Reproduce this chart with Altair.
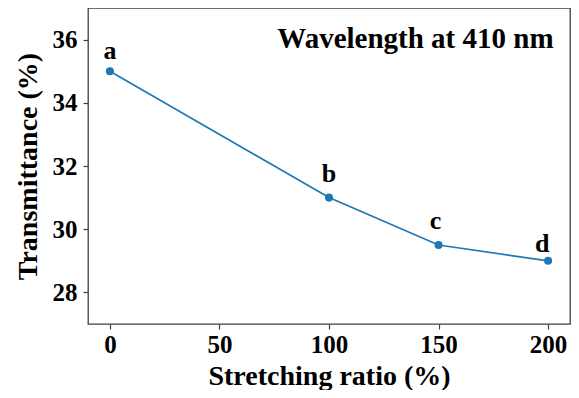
import altair as alt
import pandas as pd

stretch = [0, 100, 150, 200]
transmittance = [35.0, 31.0, 29.5, 29.0]
labels = ["a", "b", "c", "d"]
label_x = [0, 100, 148.6, 197.3]
label_y = [35.4, 31.5, 30.0, 29.27]
y_ticks = [28, 30, 32, 34, 36]
x_ticks = [0, 50, 100, 150, 200]

df = pd.DataFrame({"x": stretch, "y": transmittance})
lab = pd.DataFrame({"x": label_x, "y": label_y, "t": labels})
ttl = pd.DataFrame({"x": [202.5], "y": [35.73], "t": ["Wavelength at 410 nm"]})

FONT = "'Liberation Serif', 'Times New Roman', Times, serif"
xs = alt.Scale(domain=[-10, 210], nice=False, zero=False)
ys = alt.Scale(domain=[27, 37], nice=False, zero=False)

xax = alt.Axis(values=x_ticks, title="Stretching ratio (%)", grid=False, domain=False,
               tickSize=5, tickColor="#404040", tickWidth=1.2, labelFont=FONT, labelFontSize=25,
               labelFontWeight="bold", labelColor="black", labelPadding=3,
               titleFont=FONT, titleFontSize=28, titleFontWeight="bold",
               titleColor="black", titlePadding=5)
yax = alt.Axis(values=y_ticks, title="Transmittance (%)", grid=False, domain=False,
               tickSize=5, tickColor="#404040", tickWidth=1.2, labelFont=FONT, labelFontSize=25,
               labelFontWeight="bold", labelColor="black", labelPadding=6,
               titleFont=FONT, titleFontSize=28, titleFontWeight="bold",
               titleColor="black", titlePadding=10)

line = alt.Chart(df).mark_line(color="#1f77b4", strokeWidth=1.7).encode(
    x=alt.X("x:Q", scale=xs, axis=xax),
    y=alt.Y("y:Q", scale=ys, axis=yax),
)
pts = alt.Chart(df).mark_point(filled=True, size=65, color="#1f77b4", opacity=1).encode(
    x=alt.X("x:Q", scale=xs), y=alt.Y("y:Q", scale=ys)
)
txt = alt.Chart(lab).mark_text(font=FONT, fontSize=26, fontWeight="bold", color="black",
                               baseline="alphabetic", align="center").encode(
    x=alt.X("x:Q", scale=xs), y=alt.Y("y:Q", scale=ys), text="t:N"
)
title = alt.Chart(ttl).mark_text(font=FONT, fontSize=29, fontWeight="bold", color="black",
                                 baseline="alphabetic", align="right").encode(
    x=alt.X("x:Q", scale=xs), y=alt.Y("y:Q", scale=ys), text="t:N"
)

chart = (line + pts + txt + title).properties(
    width=482, height=316,
    background="white",
    autosize=alt.AutoSizeParams(type="none"),
    padding={"left": 80, "top": 0, "right": 1, "bottom": 66},
).configure_view(stroke="#404040", strokeWidth=1.3)

chart.save("out.html", embed_options={"renderer": "svg", "actions": False})
